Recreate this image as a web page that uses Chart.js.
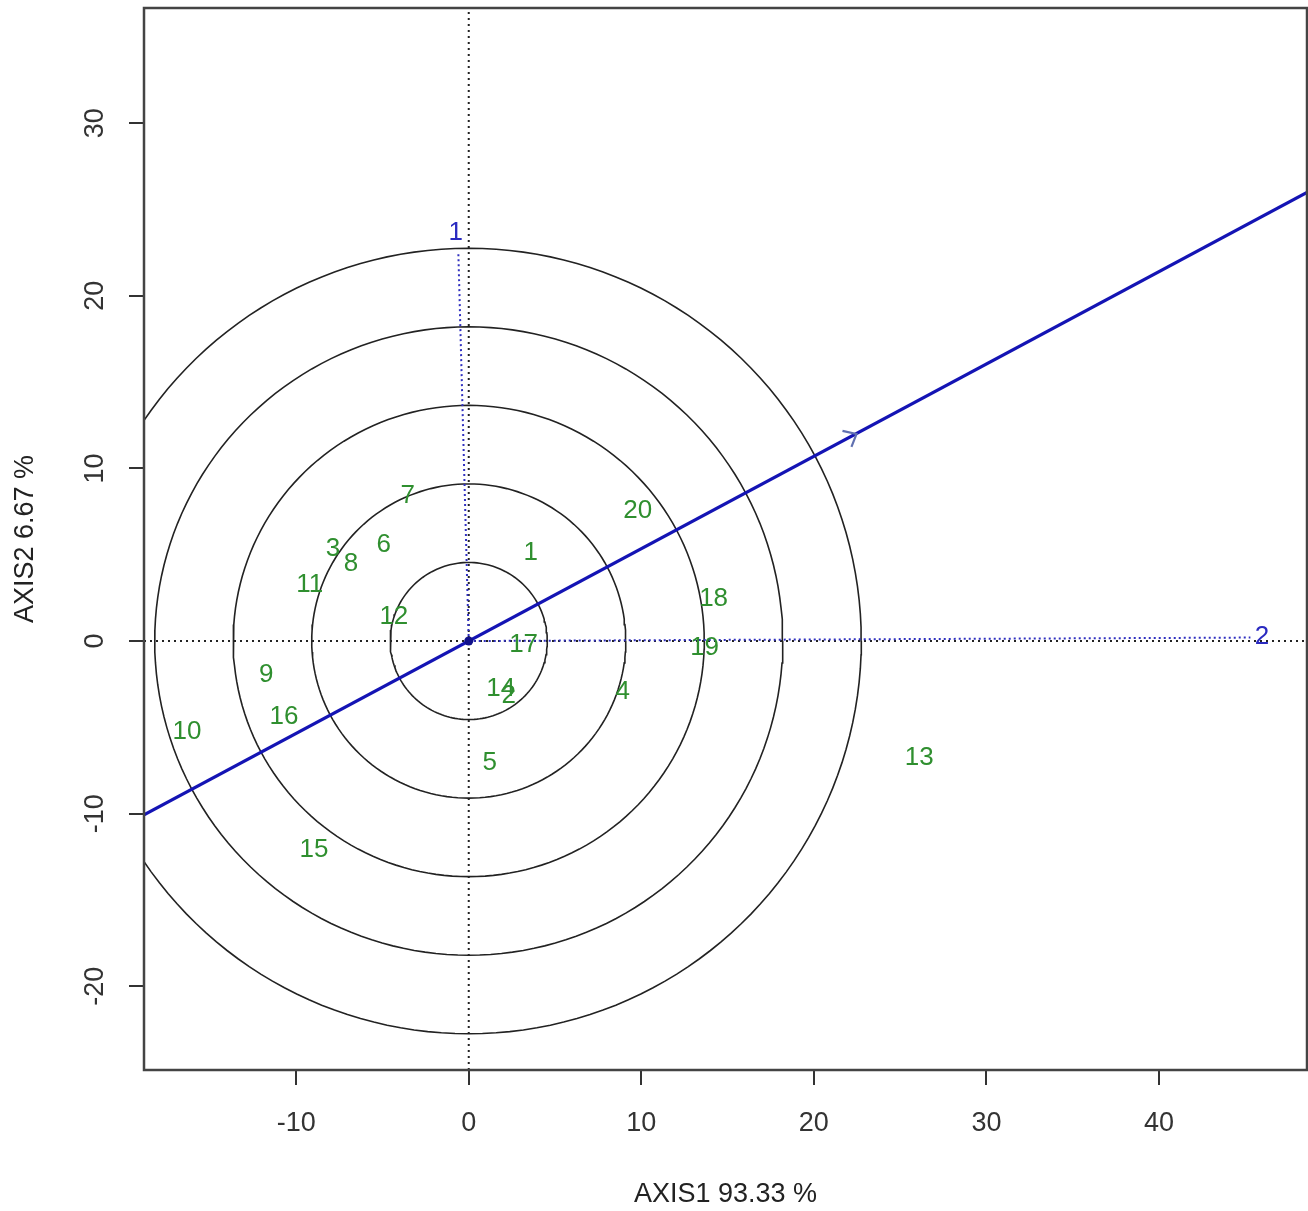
<!DOCTYPE html>
<html>
<head>
<meta charset="utf-8">
<script src="https://cdn.jsdelivr.net/npm/chart.js@4"></script>
<style>
  body { margin: 0; background: #fff; }
  #wrap { width: 1308px; height: 1211px; }
</style>
</head>
<body>
<div id="wrap"><canvas id="biplot" width="1308" height="1211"></canvas></div>
<script>
// genotype scores
const genoLabels = ["1","2","3","4","5","6","7","8","9","10","11","12","13","14","15","16","17","18","19","20"];
const genoX = [3.59, 2.32, -7.87, 8.92, 1.22, -4.92, -3.53, -6.83, -11.74, -16.33, -9.21, -4.34, 26.11, 1.85, -8.97, -10.71, 3.18, 14.19, 13.67, 9.79];
const genoY = [5.10, -3.19, 5.33, -2.95, -7.07, 5.56, 8.40, 4.46, -1.97, -5.27, 3.24, 1.39, -6.78, -2.78, -12.11, -4.40, -0.23, 2.43, -0.41, 7.53];

// environment vectors
const envLabels = ["1", "2"];
const envX = [-0.75, 45.97];
const envY = [23.64, 0.23];
const envEndX = [-0.6, 45.3];
const envEndY = [22.4, 0.2];

// concentric circles and average environment axis
const circleRadii = [4.55, 9.1, 13.65, 18.2, 22.75];
const aecSlope = 0.535;
const arrowX = [21.66, 22.47, 22.18];
const arrowY = [12.17, 11.99, 11.25];

// axes
const xMin = -18.82, xMax = 48.58;
const yMin = -24.85, yMax = 36.67;
const xTicks = [-10, 0, 10, 20, 30, 40];
const yTicks = [-20, -10, 0, 10, 20, 30];
const xTitle = "AXIS1 93.33 %";
const yTitle = "AXIS2 6.67 %";

const FONT = "'Liberation Sans', Arial, sans-serif";

function circlePoints(r) {
  const pts = [];
  for (let a = 0; a <= 360; a += 2) {
    const t = a * Math.PI / 180;
    pts.push({ x: r * Math.cos(t), y: r * Math.sin(t) });
  }
  return pts;
}

const datasets = [];

circleRadii.forEach(r => {
  datasets.push({
    type: "line", data: circlePoints(r), borderColor: "#222", borderWidth: 1.6,
    pointRadius: 0, fill: false, tension: 0, order: 10
  });
});

// dotted reference lines through the origin
datasets.push({ type: "line", data: [{ x: xMin, y: 0 }, { x: xMax, y: 0 }], borderColor: "#222",
  borderWidth: 2, borderDash: [2, 4], pointRadius: 0, order: 9 });
datasets.push({ type: "line", data: [{ x: 0, y: yMin }, { x: 0, y: yMax }], borderColor: "#222",
  borderWidth: 2, borderDash: [2, 4], pointRadius: 0, order: 9 });

// environment vectors
envLabels.forEach((l, i) => {
  datasets.push({ type: "line", data: [{ x: 0, y: 0 }, { x: envEndX[i], y: envEndY[i] }],
    borderColor: "#3030c0", borderWidth: 2, borderDash: [2, 3], pointRadius: 0, order: 8 });
});

// average environment axis
datasets.push({ type: "line", data: [{ x: xMin, y: aecSlope * xMin }, { x: xMax, y: aecSlope * xMax }],
  borderColor: "#1414b4", borderWidth: 3.2, pointRadius: 0, order: 5 });
datasets.push({ type: "line", data: arrowX.map((x, i) => ({ x, y: arrowY[i] })),
  borderColor: "#6070b0", borderWidth: 2.2, pointRadius: 0, order: 4 });

// origin dot
datasets.push({ type: "scatter", data: [{ x: 0, y: 0 }], pointRadius: 4.5,
  backgroundColor: "#10108a", borderWidth: 0, order: 3 });

// genotype positions (labels drawn at these points)
datasets.push({ type: "scatter", label: "genotypes", data: genoX.map((x, i) => ({ x, y: genoY[i] })),
  pointRadius: 0, order: 2 });
datasets.push({ type: "scatter", label: "environments", data: envX.map((x, i) => ({ x, y: envY[i] })),
  pointRadius: 0, order: 2 });

const labelPlugin = {
  id: "labels",
  afterDatasetsDraw(chart) {
    const ctx = chart.ctx, sx = chart.scales.x, sy = chart.scales.y;
    ctx.save();
    ctx.textAlign = "center";
    ctx.textBaseline = "middle";
    ctx.font = "26px " + FONT;
    ctx.fillStyle = "#2f8f2f";
    genoLabels.forEach((l, i) => {
      ctx.fillText(l, sx.getPixelForValue(genoX[i]), sy.getPixelForValue(genoY[i]));
    });
    ctx.font = "26px " + FONT;
    ctx.fillStyle = "#2a2ac0";
    envLabels.forEach((l, i) => {
      ctx.fillText(l, sx.getPixelForValue(envX[i]), sy.getPixelForValue(envY[i]));
    });
    ctx.restore();
  },
  afterDraw(chart) {
    const a = chart.chartArea, ctx = chart.ctx;
    ctx.save();
    ctx.strokeStyle = "#444";
    ctx.lineWidth = 2.5;
    ctx.strokeRect(a.left, a.top, a.right - a.left, a.bottom - a.top);
    ctx.restore();
  }
};

new Chart(document.getElementById("biplot"), {
  type: "scatter",
  data: { datasets },
  options: {
    responsive: false,
    animation: false,
    layout: { autoPadding: false, padding: { top: 8, right: 1, left: 0, bottom: 0 } },
    plugins: { legend: { display: false }, tooltip: { enabled: false } },
    scales: {
      x: {
        type: "linear", min: xMin, max: xMax,
        afterBuildTicks: s => { s.ticks = xTicks.map(v => ({ value: v })); },
        afterFit: s => { s.height = 141; s.paddingLeft = 0; s.paddingRight = 0; },
        grid: { drawOnChartArea: false, drawTicks: true, tickLength: 15, color: "#333", lineWidth: 2 },
        border: { display: false },
        ticks: { color: "#333", padding: 22, font: { family: FONT, size: 27 }, maxRotation: 0 },
        title: { display: true, text: xTitle, color: "#222", font: { family: FONT, size: 27 },
          padding: { top: 0, bottom: 0 } }
      },
      y: {
        type: "linear", min: yMin, max: yMax,
        afterBuildTicks: s => { s.ticks = yTicks.map(v => ({ value: v })); },
        afterFit: s => { s.width = 144; s.paddingTop = 0; s.paddingBottom = 0; },
        grid: { drawOnChartArea: false, drawTicks: true, tickLength: 15, color: "#333", lineWidth: 2 },
        border: { display: false },
        ticks: { color: "#333", padding: 14, crossAlign: "center", minRotation: 90, maxRotation: 90,
          font: { family: FONT, size: 27 } },
        title: { display: true, text: yTitle, color: "#222", font: { family: FONT, size: 27 },
          padding: { top: 9, bottom: 0 } }
      }
    }
  },
  plugins: [labelPlugin]
});
</script>
</body>
</html>
